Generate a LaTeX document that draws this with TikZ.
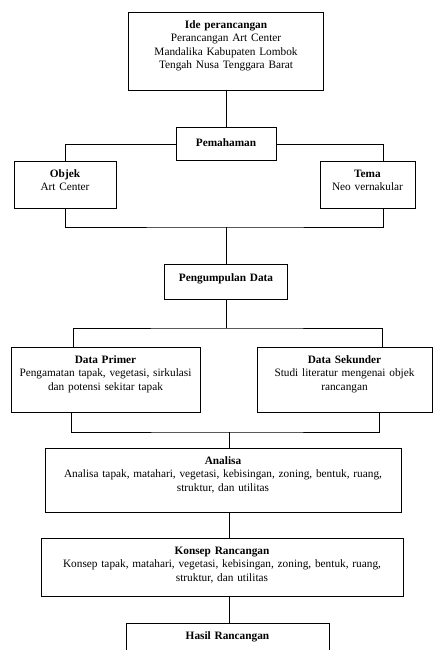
\documentclass[tikz,border=0pt]{standalone}
\usepackage{fontspec}
\setmainfont{Liberation Serif}
\tikzset{
  kotak/.style 2 args={draw, line width=0.7pt, anchor=north, align=center, inner sep=0pt, text width=#1, text height=16pt, text depth=#2},
  garis/.style={line width=0.7pt},
}
\begin{document}
\begin{tikzpicture}[x=1pt, y=-1pt, font=\fontsize{11.3}{13.5}\selectfont]
        \useasboundingbox (0,0) rectangle (433,650);
        \node[kotak={195pt}{62pt}] (A0_0) at (226,12) {\textbf{Ide perancangan}\\Perancangan Art Center\\Mandalika Kabupaten  Lombok\\Tengah Nusa Tenggara Barat};
        \node[kotak={100pt}{14pt}, text height=19pt] (A1_0) at (226,127) {\textbf{Pemahaman}};
        \node[kotak={102pt}{31pt}] (A2_0) at (65,161) {\textbf{Objek}\\Art Center};
        \node[kotak={95pt}{31pt}] (A2_1) at (367.5,161) {\textbf{Tema}\\Neo vernakular};
        \node[kotak={123pt}{18pt}, text height=17pt] (A3_0) at (226,264) {\textbf{Pengumpulan Data}};
        \node[kotak={189pt}{49pt}] (A4_0) at (105.5,347) {\textbf{Data Primer}\\Pengamatan tapak, vegetasi, sirkulasi\\dan potensi sekitar tapak};
        \node[kotak={175pt}{49pt}] (A4_1) at (344.5,347) {\textbf{Data Sekunder}\\Studi literatur mengenai objek\\rancangan};
        \node[kotak={356pt}{48pt}] (A5_0) at (223,448) {\textbf{Analisa}\\Analisa tapak, matahari, vegetasi, kebisingan, zoning, bentuk, ruang,\\struktur, dan utilitas};
        \node[kotak={362pt}{42pt}] (A6_0) at (222,538) {\textbf{Konsep Rancangan}\\Konsep tapak, matahari, vegetasi, kebisingan, zoning, bentuk, ruang,\\struktur, dan utilitas};
        \node[kotak={203pt}{44pt}] (A7_0) at (227.5,623) {\textbf{Hasil Rancangan}};
        \coordinate (B1) at (226,227);
        \coordinate (B2) at (226,328);
        \coordinate (B3) at (229,432);
        \draw[garis] (A0_0.south) -- (A1_0.north);
        \draw[garis] (A1_0.west) -| (A2_0.north);
        \draw[garis] (A1_0.east) -| ([xshift=15.5pt]A2_1.north);
        \draw[garis] (A2_0.south) |- (B1) -| ([xshift=15.5pt]A2_1.south);
        \draw[garis] (B1) -- (A3_0.north);
        \draw[garis] (A3_0.south) -- (B2);
        \draw[garis] ([xshift=-32.5pt]A4_0.north) |- (B2) -| ([xshift=37.5pt]A4_1.north);
        \draw[garis] ([xshift=-34.5pt]A4_0.south) |- (B3) -| ([xshift=34.5pt]A4_1.south);
        \draw[garis] (B3) -- (A5_0.north -| B3);
        \draw[garis] (A5_0.south -| B3) -- (A6_0.north -| B3);
        \draw[garis] (A6_0.south -| B3) -- (A7_0.north -| B3);
      \end{tikzpicture}
\end{document}
